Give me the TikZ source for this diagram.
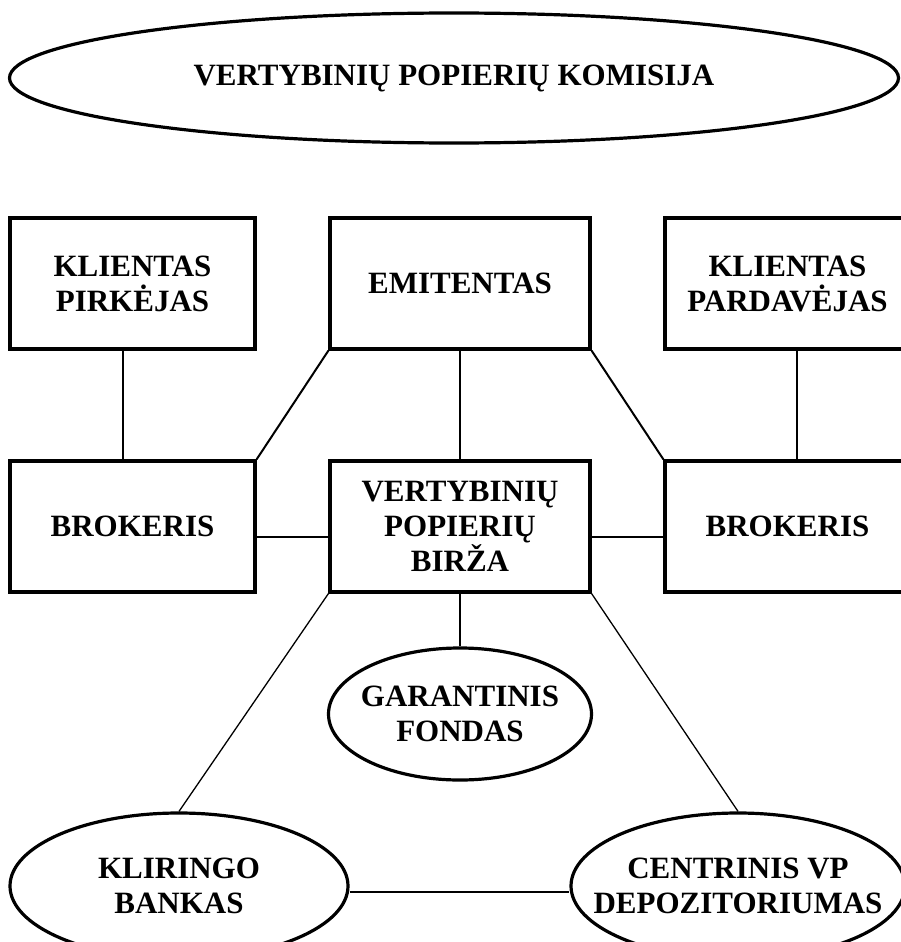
\documentclass[tikz,border=0pt]{standalone}
\usepackage{fontspec}
\setmainfont{Liberation Serif}
\usepackage{tikz}
\usetikzlibrary{shapes.geometric}

\begin{document}
\begin{tikzpicture}[x=1pt,y=-1pt,
	box/.style={draw,line width=3.2pt,rectangle,inner sep=0pt,align=center},
	oval/.style={draw,line width=3.2pt,ellipse,inner sep=0pt},
	txt/.style={align=center,inner sep=0pt},
	link/.style={line width=2pt},
	thin link/.style={line width=1.3pt},
	font=\fontsize{31}{35}\selectfont\bfseries]
		\useasboundingbox (0,0) rectangle (901,942);

		\node[oval,minimum width=889pt,minimum height=130pt]
		(node0) at (454,78)		{};
		\node[txt] (label0) at (node0)	{VERTYBINIŲ POPIERIŲ KOMISIJA};
		\node[box,minimum width=245pt,minimum height=131pt]
		(node1) at (132.5,283.5)	{KLIENTAS\\PIRKĖJAS};
		\node[box,minimum width=260pt,minimum height=131pt]
		(node2) at (460,283.5)		{EMITENTAS};
		\node[box,minimum width=245pt,minimum height=131pt]
		(node3) at (787.5,283.5)	{KLIENTAS\\PARDAVĖJAS};
		\node[box,minimum width=245pt,minimum height=131pt]
		(node4) at (132.5,526.5)	{BROKERIS};
		\node[box,minimum width=260pt,minimum height=131pt]
		(node5) at (460,526.5)		{VERTYBINIŲ\\POPIERIŲ\\BIRŽA};
		\node[box,minimum width=245pt,minimum height=131pt]
		(node6) at (787.5,526.5)	{BROKERIS};
		\node[oval,minimum width=263pt,minimum height=132pt]
		(node7) at (460,714)		{};
		\node[txt] (label7) at (node7)	{GARANTINIS\\FONDAS};
		\node[oval,minimum width=338pt,minimum height=146pt]
		(node8) at (179,886)		{};
		\node[txt] (label8) at (node8)	{KLIRINGO\\BANKAS};
		\node[oval,minimum width=334pt,minimum height=146pt]
		(node9) at (738,886)		{};
		\node[txt] (label9) at (node9)	{CENTRINIS VP\\DEPOZITORIUMAS};

		\path[link] ([xshift=-9.5pt]node1.south) edge ([xshift=-9.5pt]node4.north);
		\path[link] ([xshift=9.5pt]node3.south) edge ([xshift=9.5pt]node6.north);
		\path[link] (node2.south west) edge (node4.north east);
		\path[link] (node2.south) edge (node5.north);
		\path[link] (node2.south east) edge (node6.north west);
		\path[link] ([yshift=-10.5pt]node4.east) edge ([yshift=-10.5pt]node5.west);
		\path[link] ([yshift=-10.5pt]node5.east) edge ([yshift=-10.5pt]node6.west);
		\path[link] (node5.south) edge (node7.north);
		\path[thin link] (node5.south west) edge (node8.north);
		\path[thin link] (node5.south east) edge (node9.north);
		\path[link] ([yshift=-6pt]node8.east) edge ([yshift=-6pt]node9.west);
		\end{tikzpicture}
\end{document}
